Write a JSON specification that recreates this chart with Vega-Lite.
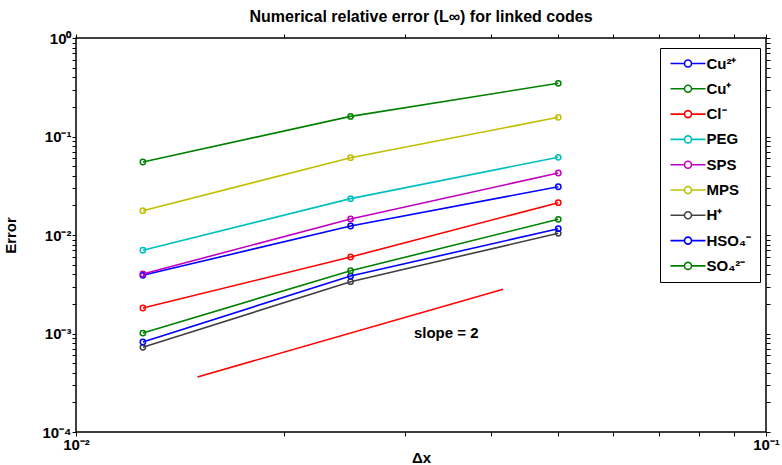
{
  "$schema": "https://vega.github.io/schema/vega-lite/v6.json",
  "width": 690,
  "height": 394,
  "autosize": {"type": "none"},
  "padding": {"left": 76, "top": 38, "right": 16, "bottom": 33},
  "background": "white",
  "title": {"text": "Numerical relative error (L∞) for linked codes", "font": "Liberation Sans", "fontSize": 16, "fontWeight": "bold", "color": "black", "offset": 6, "anchor": "middle"},
  "config": {"view": {"stroke": "black", "strokeWidth": 1.5}, "font": "Liberation Sans"},
  "datasets": {
    "series": [
      {"s": "Cu²⁺", "dx": 0.0125, "err": 0.0039},
      {"s": "Cu²⁺", "dx": 0.025, "err": 0.01234},
      {"s": "Cu²⁺", "dx": 0.05, "err": 0.0309},
      {"s": "Cu⁺", "dx": 0.0125, "err": 0.0551},
      {"s": "Cu⁺", "dx": 0.025, "err": 0.160},
      {"s": "Cu⁺", "dx": 0.05, "err": 0.347},
      {"s": "Cl⁻", "dx": 0.0125, "err": 0.001815},
      {"s": "Cl⁻", "dx": 0.025, "err": 0.00598},
      {"s": "Cl⁻", "dx": 0.05, "err": 0.0213},
      {"s": "PEG", "dx": 0.0125, "err": 0.0070},
      {"s": "PEG", "dx": 0.025, "err": 0.0234},
      {"s": "PEG", "dx": 0.05, "err": 0.0615},
      {"s": "SPS", "dx": 0.0125, "err": 0.00402},
      {"s": "SPS", "dx": 0.025, "err": 0.01453},
      {"s": "SPS", "dx": 0.05, "err": 0.0426},
      {"s": "MPS", "dx": 0.0125, "err": 0.01766},
      {"s": "MPS", "dx": 0.025, "err": 0.0609},
      {"s": "MPS", "dx": 0.05, "err": 0.1566},
      {"s": "H⁺", "dx": 0.0125, "err": 0.000724},
      {"s": "H⁺", "dx": 0.025, "err": 0.00336},
      {"s": "H⁺", "dx": 0.05, "err": 0.0104},
      {"s": "HSO₄⁻", "dx": 0.0125, "err": 0.00082},
      {"s": "HSO₄⁻", "dx": 0.025, "err": 0.00383},
      {"s": "HSO₄⁻", "dx": 0.05, "err": 0.01159},
      {"s": "SO₄²⁻", "dx": 0.0125, "err": 0.00101},
      {"s": "SO₄²⁻", "dx": 0.025, "err": 0.00434},
      {"s": "SO₄²⁻", "dx": 0.05, "err": 0.01442}
    ],
    "slope": [
      {"dx": 0.015, "err": 0.000362},
      {"dx": 0.0416, "err": 0.00281}
    ],
    "label": [
      {"dx": 0.0344, "err": 0.00101, "t": "slope = 2"}
    ]
  },
  "layer": [
    {
      "data": {"name": "series"},
      "mark": {"type": "line", "strokeWidth": 1.6},
      "encoding": {
        "x": {"field": "dx", "type": "quantitative", "scale": {"type": "log", "domain": [0.01, 0.1], "nice": false},
          "axis": {"orient": "bottom", "values": [0.01, 0.02, 0.03, 0.04, 0.05, 0.06, 0.07, 0.08, 0.09, 0.1],
            "labelExpr": "datum.value == 0.01 ? '10⁻²' : datum.value == 0.1 ? '10⁻¹' : ''",
            "labelOverlap": false, "labelFlush": false, "labelFont": "Liberation Sans", "labelFontWeight": "bold", "labelFontSize": 15, "labelColor": "black",
            "domain": false, "tickSize": 4, "tickColor": "black", "tickWidth": 1, "labelPadding": 1,
            "grid": false,
            "title": "Δx", "titleFont": "Liberation Sans", "titleFontSize": 15, "titleFontWeight": "bold", "titleColor": "black", "titleBaseline": "alphabetic", "titleY": 30}},
        "y": {"field": "err", "type": "quantitative", "scale": {"type": "log", "domain": [0.0001, 1], "nice": false},
          "axis": {"orient": "left",
            "values": [0.0001, 0.0002, 0.0003, 0.0004, 0.0005, 0.0006, 0.0007, 0.0008, 0.0009, 0.001, 0.002, 0.003, 0.004, 0.005, 0.006, 0.007, 0.008, 0.009, 0.01, 0.02, 0.03, 0.04, 0.05, 0.06, 0.07, 0.08, 0.09, 0.1, 0.2, 0.3, 0.4, 0.5, 0.6, 0.7, 0.8, 0.9, 1],
            "labelExpr": "datum.value == 0.0001 ? '10⁻⁴' : datum.value == 0.001 ? '10⁻³' : datum.value == 0.01 ? '10⁻²' : datum.value == 0.1 ? '10⁻¹' : datum.value == 1 ? '10⁰' : ''",
            "labelOverlap": false, "labelFlush": false, "labelFont": "Liberation Sans", "labelFontWeight": "bold", "labelFontSize": 15, "labelColor": "black",
            "domain": false, "tickSize": 4, "tickColor": "black", "tickWidth": 1, "labelPadding": 1,
            "grid": false,
            "title": "Error", "titleFont": "Liberation Sans", "titleFontSize": 15, "titleFontWeight": "bold", "titleColor": "black", "titleX": -58, "titleY": 197}},
        "color": {"field": "s", "type": "nominal",
          "scale": {"domain": ["Cu²⁺", "Cu⁺", "Cl⁻", "PEG", "SPS", "MPS", "H⁺", "HSO₄⁻", "SO₄²⁻"],
            "range": ["#0000ff", "#008000", "#ff0000", "#00bfbf", "#bf00bf", "#bfbf00", "#404040", "#0000ff", "#008000"]},
          "legend": {"orient": "none", "legendX": 584, "legendY": 10, "title": null,
            "symbolType": "M-4.375,0L-0.875,0M0.875,0A0.875,0.875,0,1,1,-0.875,0A0.875,0.875,0,1,1,0.875,0M0.875,0L4.375,0",
            "symbolSize": 64, "symbolOffset": 12.5, "symbolStrokeWidth": 1.6, "symbolFillColor": "transparent",
            "labelFont": "Liberation Sans", "labelFontWeight": "bold", "labelFontSize": 15, "labelColor": "black", "labelOffset": 11,
            "labelExpr": "datum.label + '  '",
            "strokeColor": "black", "fillColor": "white", "padding": 8, "rowPadding": 9.3}}
      }
    },
    {
      "data": {"name": "series"},
      "mark": {"type": "point", "shape": "circle", "filled": false, "size": 28, "strokeWidth": 1.5, "opacity": 1},
      "encoding": {
        "x": {"field": "dx", "type": "quantitative",
          "axis": {"orient": "top", "values": [0.01, 0.02, 0.03, 0.04, 0.05, 0.06, 0.07, 0.08, 0.09, 0.1], "labels": false, "title": null, "domain": false, "tickSize": 4, "tickColor": "black", "tickWidth": 1, "grid": false}},
        "y": {"field": "err", "type": "quantitative",
          "axis": {"orient": "right",
            "values": [0.0001, 0.0002, 0.0003, 0.0004, 0.0005, 0.0006, 0.0007, 0.0008, 0.0009, 0.001, 0.002, 0.003, 0.004, 0.005, 0.006, 0.007, 0.008, 0.009, 0.01, 0.02, 0.03, 0.04, 0.05, 0.06, 0.07, 0.08, 0.09, 0.1, 0.2, 0.3, 0.4, 0.5, 0.6, 0.7, 0.8, 0.9, 1],
            "labels": false, "title": null, "domain": false, "tickSize": 4, "tickWidth": 1, "tickColor": "black", "grid": false}},
        "color": {"field": "s", "type": "nominal", "legend": null}
      }
    },
    {
      "data": {"name": "slope"},
      "mark": {"type": "line", "color": "#ff0000", "strokeWidth": 1.6},
      "encoding": {
        "x": {"field": "dx", "type": "quantitative", "axis": null},
        "y": {"field": "err", "type": "quantitative", "axis": null}
      }
    },
    {
      "data": {"name": "label"},
      "mark": {"type": "text", "font": "Liberation Sans", "fontWeight": "bold", "fontSize": 15, "color": "black", "align": "center", "baseline": "middle"},
      "encoding": {
        "x": {"field": "dx", "type": "quantitative", "axis": null},
        "y": {"field": "err", "type": "quantitative", "axis": null},
        "text": {"field": "t"}
      }
    }
  ],
  "resolve": {"axis": {"x": "independent", "y": "independent"}}
}
